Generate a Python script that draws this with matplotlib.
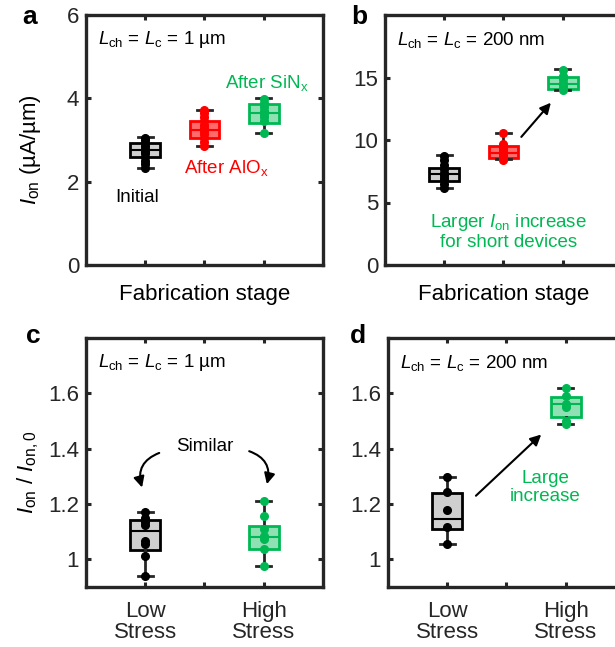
import numpy as np
import matplotlib
matplotlib.use("Agg")
import matplotlib.pyplot as plt
from matplotlib.patches import FancyArrowPatch

plt.rcParams['font.family'] = ['Liberation Sans', 'DejaVu Sans']
plt.rcParams['mathtext.fontset'] = 'custom'
plt.rcParams['mathtext.rm'] = 'Liberation Sans'
plt.rcParams['mathtext.it'] = 'Liberation Sans:italic'
plt.rcParams['mathtext.default'] = 'it'

DARK = '#262626'
BLACK = '#000000'
RED = '#ff0000'
GREEN = '#00b853'
FACE = {BLACK: '#cfcfcf', RED: '#ff6a6a', GREEN: '#8fe0b3'}

# ---- panel a: Ion (uA/um), Lch = Lc = 1 um
a_pos = [1, 2, 3]
a_colors = [BLACK, RED, GREEN]
a_q1 = [2.60, 3.06, 3.42]
a_med = [2.76, 3.24, 3.66]
a_q3 = [2.92, 3.46, 3.86]
a_lo = [2.32, 2.86, 3.16]
a_hi = [3.07, 3.72, 4.00]
a_pts = [[2.33, 2.42, 2.50, 2.60, 2.68, 2.72, 2.78, 2.85, 2.92, 3.00, 3.05],
         [2.86, 2.95, 3.05, 3.15, 3.22, 3.28, 3.35, 3.45, 3.55, 3.65, 3.72],
         [3.16, 3.45, 3.55, 3.62, 3.70, 3.80, 3.90, 3.98]]

# ---- panel b: Ion (uA/um), Lch = Lc = 200 nm
b_pos = [1, 2, 3]
b_colors = [BLACK, RED, GREEN]
b_q1 = [6.72, 8.55, 14.10]
b_med = [7.26, 9.00, 14.50]
b_q3 = [7.74, 9.54, 15.05]
b_lo = [6.18, 8.47, 13.98]
b_hi = [8.80, 10.60, 15.70]
b_pts = [[6.20, 6.50, 6.80, 7.00, 7.20, 7.40, 7.70, 8.00, 8.40, 8.75],
         [8.40, 8.60, 8.80, 9.00, 9.20, 9.40, 9.70, 10.60],
         [14.00, 14.20, 14.40, 14.60, 14.90, 15.10, 15.60]]

# ---- panel c: Ion/Ion,0, Lch = Lc = 1 um
c_pos = [1, 3]
c_colors = [BLACK, GREEN]
c_q1 = [1.035, 1.039]
c_med = [1.103, 1.081]
c_q3 = [1.143, 1.119]
c_lo = [0.940, 0.976]
c_hi = [1.171, 1.211]
c_pts = [[0.940, 1.011, 1.054, 1.065, 1.125, 1.135, 1.150, 1.171],
         [0.976, 1.039, 1.075, 1.085, 1.111, 1.157, 1.211]]

# ---- panel d: Ion/Ion,0, Lch = Lc = 200 nm
d_pos = [1, 3]
d_colors = [BLACK, GREEN]
d_q1 = [1.111, 1.515]
d_med = [1.147, 1.563]
d_q3 = [1.241, 1.586]
d_lo = [1.056, 1.490]
d_hi = [1.298, 1.621]
d_pts = [[1.056, 1.117, 1.180, 1.244, 1.298],
         [1.490, 1.500, 1.550, 1.560, 1.590, 1.621]]

stress_labels = ['Low\nStress', '', 'High\nStress']

FS = 16     # ticks / axis labels
AFS = 13.5  # annotations


def boxes(ax, pos, colors, q1, med, q3, lo, hi, pts):
    for i in range(len(pos)):
        st = [dict(med=med[i], q1=q1[i], q3=q3[i], whislo=lo[i], whishi=hi[i], fliers=[])]
        c = colors[i]
        ax.bxp(st, positions=[pos[i]], widths=0.5, capwidths=0.25, patch_artist=True,
               showfliers=False, manage_ticks=False,
               boxprops=dict(facecolor=FACE[c], edgecolor=c, linewidth=2),
               medianprops=dict(color=c, linewidth=1.5),
               whiskerprops=dict(color=DARK, linewidth=2),
               capprops=dict(color=DARK, linewidth=2))
        ax.plot([pos[i]] * len(pts[i]), pts[i], 'o', color=c, ms=5.5, zorder=5)


def style(ax):
    ax.set_xlim(0, 4)
    for s in ax.spines.values():
        s.set_linewidth(2.4)
        s.set_color(DARK)
    ax.tick_params(direction='in', top=True, right=True, length=3.5, width=2.2,
                   labelsize=FS, colors=DARK, labelcolor=DARK, pad=5)
    ax.tick_params(axis='x', pad=10)


fig = plt.figure(figsize=(6.15, 6.47), dpi=100)
W, H = 615, 647
axw, axh = 237 / W, 250 / H
ax_a = fig.add_axes([86 / W, 1 - 265 / H, axw, axh])
ax_b = fig.add_axes([385 / W, 1 - 265 / H, axw, axh])
ax_c = fig.add_axes([86 / W, 1 - 587 / H, axw, 249 / H])
ax_d = fig.add_axes([388 / W, 1 - 587 / H, axw, 249 / H])

# a
boxes(ax_a, a_pos, a_colors, a_q1, a_med, a_q3, a_lo, a_hi, a_pts)
style(ax_a)
ax_a.set_ylim(0, 6)
ax_a.set_yticks([0, 2, 4, 6])
ax_a.set_xticks([1, 2, 3])
ax_a.set_xticklabels([])
ax_a.set_xlabel('Fabrication stage', fontsize=FS, labelpad=4)
ax_a.set_ylabel(r'$I_{\mathrm{on}}$ (µA/µm)', fontsize=FS)
ax_a.yaxis.set_label_coords(-0.18, 0.46)
ax_a.text(0.05, 0.9, r'$L_{\mathrm{ch}}$ = $L_{\mathrm{c}}$ = 1 µm', transform=ax_a.transAxes, fontsize=AFS, va='center')
ax_a.text(0.87, 1.63, 'Initial', fontsize=AFS, ha='center', va='center', color=BLACK)
ax_a.text(2.37, 2.33, r'After AlO$_{\mathrm{x}}$', fontsize=AFS, ha='center', va='center', color=RED)
ax_a.text(3.05, 4.37, r'After SiN$_{\mathrm{x}}$', fontsize=AFS, ha='center', va='center', color=GREEN)

# b
boxes(ax_b, b_pos, b_colors, b_q1, b_med, b_q3, b_lo, b_hi, b_pts)
style(ax_b)
ax_b.set_ylim(0, 20)
ax_b.set_yticks([0, 5, 10, 15])
ax_b.set_xticks([1, 2, 3])
ax_b.set_xticklabels([])
ax_b.set_xlabel('Fabrication stage', fontsize=FS, labelpad=4)
ax_b.text(0.05, 0.9, r'$L_{\mathrm{ch}}$ = $L_{\mathrm{c}}$ = 200 nm', transform=ax_b.transAxes, fontsize=AFS, va='center')
ax_b.text(2.08, 2.7, 'Larger $I_{\\mathrm{on}}$ increase\nfor short devices', fontsize=AFS,
          ha='center', va='center', color=GREEN, linespacing=1.05)
ax_b.annotate('', xy=(2.83, 13.15), xytext=(2.27, 10.08),
              arrowprops=dict(arrowstyle='-|>', color=BLACK, lw=1.5, mutation_scale=16))

# c
boxes(ax_c, c_pos, c_colors, c_q1, c_med, c_q3, c_lo, c_hi, c_pts)
style(ax_c)
ax_c.set_ylim(0.9, 1.8)
ax_c.set_yticks([1, 1.2, 1.4, 1.6])
ax_c.set_yticklabels(['1', '1.2', '1.4', '1.6'])
ax_c.set_xticks([1, 2, 3])
ax_c.set_xticklabels(stress_labels, linespacing=1.0)
ax_c.set_ylabel(r'$I_{\mathrm{on}}$ / $I_{\mathrm{on,0}}$', fontsize=FS)
ax_c.yaxis.set_label_coords(-0.19, 0.46)
ax_c.text(0.05, 0.9, r'$L_{\mathrm{ch}}$ = $L_{\mathrm{c}}$ = 1 µm', transform=ax_c.transAxes, fontsize=AFS, va='center')
ax_c.text(2.0, 1.407, 'Similar', fontsize=AFS, ha='center', va='center')
ax_c.add_patch(FancyArrowPatch((1.28, 1.388), (0.96, 1.25), connectionstyle='arc3,rad=0.5',
                               arrowstyle='-|>', mutation_scale=16, lw=1.5, color=BLACK))
ax_c.add_patch(FancyArrowPatch((2.71, 1.394), (3.04, 1.262), connectionstyle='arc3,rad=-0.5',
                               arrowstyle='-|>', mutation_scale=16, lw=1.5, color=BLACK))

# d
boxes(ax_d, d_pos, d_colors, d_q1, d_med, d_q3, d_lo, d_hi, d_pts)
style(ax_d)
ax_d.set_ylim(0.9, 1.8)
ax_d.set_yticks([1, 1.2, 1.4, 1.6])
ax_d.set_yticklabels(['1', '1.2', '1.4', '1.6'])
ax_d.set_xticks([1, 2, 3])
ax_d.set_xticklabels(stress_labels, linespacing=1.0)
ax_d.text(0.05, 0.9, r'$L_{\mathrm{ch}}$ = $L_{\mathrm{c}}$ = 200 nm', transform=ax_d.transAxes, fontsize=AFS, va='center')
ax_d.text(2.66, 1.26, 'Large\nincrease', fontsize=AFS, ha='center', va='center', color=GREEN, linespacing=1.05)
ax_d.annotate('', xy=(2.62, 1.458), xytext=(1.45, 1.223),
              arrowprops=dict(arrowstyle='-|>', color=BLACK, lw=1.5, mutation_scale=16))

# panel letters
for lbl, x, y in [('a', 30, 17), ('b', 359, 17), ('c', 33, 336), ('d', 358, 336)]:
    fig.text(x / W, 1 - y / H, lbl, fontsize=19, fontweight='bold', ha='center', va='center')

fig.savefig('out.png', dpi=100)
